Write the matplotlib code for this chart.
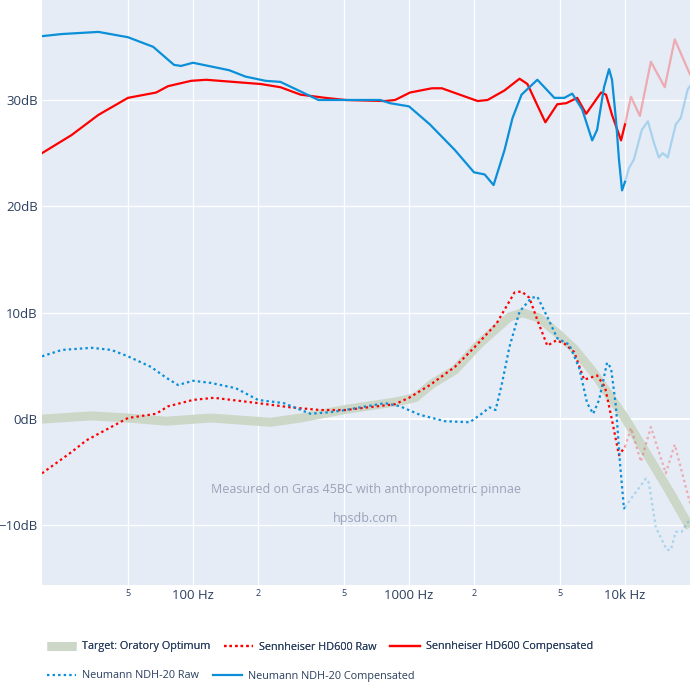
import numpy as np
import matplotlib
matplotlib.use('Agg')
import matplotlib.pyplot as plt
from matplotlib.lines import Line2D

plt.rcParams['font.family'] = ['Open Sans', 'DejaVu Sans']

# target curve
tgt_f = [20, 33.9, 50, 75, 121, 229, 315, 507, 862, 1066, 1276, 1630, 2124, 2920, 3350,
         4015, 4965, 5820, 7200, 8620, 10000, 12900, 15950, 20000]
tgt_db = [0.0, 0.3, 0.1, -0.2, 0.1, -0.3, 0.1, 0.9, 1.6, 2.0, 3.3, 4.6, 7.1, 9.6, 10.0,
          9.5, 7.9, 6.6, 4.3, 2.0, 0.1, -3.6, -6.7, -10.2]

# Sennheiser HD600 raw
hd_raw_f = [20, 27.4, 32.1, 50, 67.5, 76.7, 100, 125, 200, 283, 389, 507, 862, 1000, 1250,
            1630, 2000, 2546, 3080, 3320, 3610, 3930, 4370, 4810, 5240, 5820, 6470, 7430,
            8085, 8710, 9380, 10000, 10660, 11850, 13180, 15450, 17000, 20000]
hd_raw_db = [-5.1, -3.1, -2.0, 0.1, 0.5, 1.2, 1.8, 2.0, 1.5, 1.1, 0.85, 0.85, 1.4, 2.0, 3.2,
             4.9, 6.7, 9.0, 11.9, 12.0, 11.4, 9.3, 6.9, 7.4, 7.1, 6.3, 3.7, 4.1,
             3.0, -0.1, -3.4, -2.6, -0.85, -4.0, -0.75, -5.1, -2.4, -7.9]

# Sennheiser HD600 compensated
hd_comp_f = [20, 27.4, 36.5, 50, 67.5, 76.7, 98, 115, 206, 254, 315, 410, 507, 775, 862,
             1011, 1276, 1420, 2080, 2312, 2770, 3250, 3535, 3930, 4280, 4860, 5350, 6010,
             6610, 7750, 8170, 8710, 9590, 10000, 10660, 11720, 13180, 15280, 17000, 20000]
hd_comp_db = [25.0, 26.7, 28.6, 30.2, 30.7, 31.3, 31.8, 31.9, 31.5, 31.2, 30.5, 30.2, 30.0, 29.9, 30.0,
              30.7, 31.1, 31.1, 29.9, 30.0, 30.9, 32.0, 31.5, 29.5, 27.9, 29.6, 29.7, 30.2,
              28.7, 30.7, 30.5, 28.6, 26.2, 27.7, 30.3, 28.5, 33.6, 31.2, 35.7, 32.4]

# Neumann NDH-20 raw
ndh_raw_f = [20, 24.7, 33.9, 41.9, 50, 64, 75, 85.3, 100, 121, 158, 200, 263, 350, 432, 507,
             775, 909, 1124, 1466, 1910, 2170, 2360, 2518, 2685, 2920, 3250, 3690, 3930,
             4370, 4860, 5520, 6140, 6680, 7125, 7590, 8260, 8620, 9090, 9480, 9890, 10000,
             11000, 12500, 12900, 13900, 15620, 16300, 17180, 18310, 19320, 20000]
ndh_raw_db = [5.9, 6.5, 6.7, 6.5, 5.9, 4.9, 3.9, 3.2, 3.6, 3.4, 2.9, 1.8, 1.5, 0.5, 0.65, 0.85,
              1.5, 1.2, 0.4, -0.2, -0.3, 0.5, 1.1, 0.85, 3.2, 6.8, 10.1, 11.4, 11.5,
              9.6, 7.6, 7.0, 4.8, 1.5, 0.5, 1.8, 5.3, 4.8, 1.1, -4.1, -8.4, -8.3,
              -7.1, -5.6, -6.0, -10.2, -12.3, -12.3, -10.6, -10.6, -9.8, -9.5]

# Neumann NDH-20 compensated
ndh_comp_f = [20, 24.7, 36.5, 50, 65.4, 81.7, 88, 100, 147, 175, 217, 254, 315, 381, 507, 735,
              817, 1000, 1250, 1630, 2000, 2240, 2464, 2770, 3015, 3320, 3610, 3930, 4280,
              4710, 5240, 5700, 6340, 7050, 7430, 8000, 8440, 8710, 9090, 9380, 9690, 10000,
              10430, 11000, 11970, 12770, 13600, 14340, 14960, 15780, 17180, 18120, 19520, 20000]
ndh_comp_db = [36.0, 36.2, 36.4, 35.9, 35.0, 33.3, 33.2, 33.5, 32.8, 32.2, 31.8, 31.7, 30.8, 30.0, 30.0, 30.0,
               29.7, 29.4, 27.7, 25.3, 23.2, 23.0, 22.0, 25.3, 28.3, 30.5, 31.2, 31.9, 31.1,
               30.2, 30.2, 30.6, 29.1, 26.2, 27.2, 31.2, 32.9, 31.9, 28.1, 24.4, 21.5, 22.3,
               23.6, 24.4, 27.2, 28.0, 26.0, 24.6, 25.0, 24.6, 27.7, 28.3, 31.0, 31.3]

red = '#ff0000'
blue = '#0a8fd8'
tgt_col = '#ccd7c8'
dot = (0, (1.1, 1.4))


def split_plot(ax, f, db, **kw):
    # full colour up to 10k, faded above
    f = np.array(f)
    db = np.array(db)
    lo = f <= 10000
    hi = f >= 10000
    ax.plot(f[lo], db[lo], **kw)
    ax.plot(f[hi], db[hi], alpha=0.28, **kw)


fig = plt.figure(figsize=(6.9, 6.9), dpi=100)
ax = fig.add_axes([42 / 690, 1 - 585 / 690, 648 / 690, 585 / 690])
ax.set_facecolor('#e5ecf6')
for s in ax.spines.values():
    s.set_visible(False)

ax.plot(tgt_f, tgt_db, color=tgt_col, lw=6.5, solid_capstyle='butt', zorder=2)
split_plot(ax, hd_raw_f, hd_raw_db, color=red, lw=1.6, linestyle=dot, zorder=3)
split_plot(ax, hd_comp_f, hd_comp_db, color=red, lw=1.6, zorder=3)
split_plot(ax, ndh_raw_f, ndh_raw_db, color=blue, lw=1.6, linestyle=dot, zorder=3)
split_plot(ax, ndh_comp_f, ndh_comp_db, color=blue, lw=1.6, zorder=3)

ax.set_xscale('log')
ax.set_xlim(20, 20000)
ax.set_ylim(-15.6, 39.4)

grid_f = [50, 100, 200, 500, 1000, 2000, 5000, 10000]
for g in grid_f:
    ax.axvline(g, color='white', lw=0.9, zorder=1)
for g in [-10, 10, 20, 30]:
    ax.axhline(g, color='white', lw=0.9, zorder=1)
ax.axhline(0, color='white', lw=1.5, zorder=1)

ax.set_xticks([100, 1000, 10000])
ax.set_xticklabels(['100 Hz', '1000 Hz', '10k Hz'])
ax.set_xticks([50, 200, 500, 2000, 5000], minor=True)
ax.set_xticklabels(['5', '2', '5', '2', '5'], minor=True)
ax.tick_params(axis='x', which='major', length=0, labelsize=9.5, labelcolor='#2a3f5f', pad=3)
ax.tick_params(axis='x', which='minor', length=0, labelsize=6.5, labelcolor='#2a3f5f', pad=3)

ax.set_yticks([-10, 0, 10, 20, 30])
ax.set_yticklabels(['\u221210dB', '0dB', '10dB', '20dB', '30dB'])
ax.tick_params(axis='y', length=0, labelsize=9.5, labelcolor='#2a3f5f', pad=3)

ax.text(0.5, 0.164, 'Measured on Gras 45BC with anthropometric pinnae', transform=ax.transAxes,
        ha='center', va='center', fontsize=9, color='#9ba3b8')
ax.text(0.5, 0.113, 'hpsdb.com', transform=ax.transAxes,
        ha='center', va='center', fontsize=9, color='#9ba3b8')

h_tgt = Line2D([], [], color=tgt_col, lw=6.5, solid_capstyle='butt')
h_hd_raw = Line2D([], [], color=red, lw=1.6, linestyle=dot)
h_hd_comp = Line2D([], [], color=red, lw=1.6)
h_ndh_raw = Line2D([], [], color=blue, lw=1.6, linestyle=dot)
h_ndh_comp = Line2D([], [], color=blue, lw=1.6)

leg_kw = dict(frameon=False, fontsize=7.8, handlelength=2.7, handletextpad=0.55,
              columnspacing=1.25, borderpad=0, borderaxespad=0, labelcolor='#2a3f5f')
leg1 = fig.legend([h_tgt, h_hd_raw, h_hd_comp],
                  ['Target: Oratory Optimum', 'Sennheiser HD600 Raw', 'Sennheiser HD600 Compensated'],
                  loc='center left', bbox_to_anchor=(47 / 690, 1 - 647 / 690), ncol=3, **leg_kw)
fig.add_artist(leg1)
fig.legend([h_ndh_raw, h_ndh_comp], ['Neumann NDH-20 Raw', 'Neumann NDH-20 Compensated'],
           loc='center left', bbox_to_anchor=(47 / 690, 1 - 676 / 690), ncol=2, **leg_kw)

fig.savefig('out.png', dpi=100, facecolor='white')
